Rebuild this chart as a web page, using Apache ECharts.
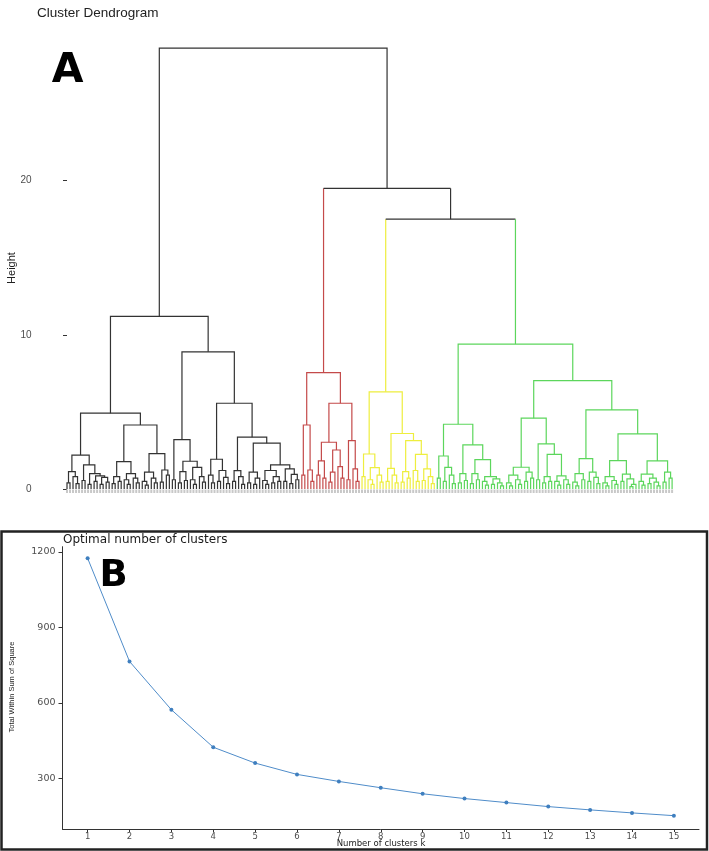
<!DOCTYPE html>
<html><head><meta charset="utf-8">
<script src="https://cdn.jsdelivr.net/npm/echarts@6/dist/echarts.min.js"></script>
<style>html,body{margin:0;padding:0;background:#fff}#c{width:709px;height:851px}</style>
</head><body><div id="c"></div>
<script>
// ---------- Panel A: dendrogram (node = [height, left, right], leaf = 0) ----------
const bA1 = [1.12,[0.4,0,0],[0.8,0,[0.35,0,0]]];
const bA2 = [1.56,[0.55,0,0],[1.0,[0.3,0,0],[0.85,[0.5,0,0],[0.75,[0.3,0,0],[0.45,0,0]]]]];
const bB1 = [1.77,[0.8,[0.35,0,0],[0.5,0,0]],[1.0,[0.6,0,[0.3,0,0]],[0.7,0,[0.4,0,0]]]];
const bB2 = [2.3,[1.1,[0.5,0,[0.25,0,0]],[0.7,0,[0.4,0,0]]],[1.23,[0.45,0,0],[0.9,0,0]]];
const bC  = [3.2,[0.6,0,0],[1.8,[1.12,[0.4,0,0],[0.55,0,0]],[1.4,[0.6,0,[0.3,0,0]],[0.8,0,[0.45,0,0]]]]];
const bD1 = [1.93,[0.9,0,[0.4,0,0]],[1.2,[0.5,0,0],[0.75,0,[0.35,0,0]]]];
const bD2 = [1.19,[0.5,0,0],[0.8,0,[0.3,0,0]]];
const bD3 = [1.1,[0.4,0,0],[0.7,[0.3,0,0],0]];
const bD4 = [1.56,[1.2,[0.55,0,[0.3,0,0]],[0.8,[0.4,0,0],[0.5,0,0]]],[1.3,[0.5,0,0],[0.95,[0.35,0,0],[0.6,0,0]]]];
const clusterBlack = [11.2,[4.92,[2.2,bA1,bA2],[4.15,bB1,bB2]],[8.9,bC,[5.56,bD1,[3.36,bD2,[2.97,bD3,bD4]]]]];

const rA  = [4.15,[0.9,0,0],[1.23,0,[0.5,0,0]]];
const rB1 = [3.03,[1.82,[0.9,0,0],[0.7,0,0]],[2.53,[1.1,[0.45,0,0],0],[1.45,0,[0.7,0,0]]]];
const rB2 = [3.14,[0.6,0,0],[1.3,0,[0.5,0,0]]];
const clusterRed = [7.55, rA, [5.56, rB1, rB2]];

const yA  = [2.27,[0.8,0,0],[1.38,[0.6,0,[0.3,0,0]],[0.9,0,[0.45,0,0]]]];
const yB1 = [1.34,[0.5,0,0],[0.9,0,[0.4,0,0]]];
const yB2 = [3.14,[1.12,[0.45,0,0],[0.7,0,0]],[2.25,[1.2,0,[0.5,0,0]],[1.3,[0.55,0,0],[0.8,0,[0.35,0,0]]]]];
const clusterYellow = [6.3, yA, [3.6, yB1, yB2]];

const gA1 = [2.14,[0.7,0,0],[1.4,[0.5,0,0],[0.9,0,[0.35,0,0]]]];
const gA2 = [2.86,[1.0,[0.4,0,0],[0.55,0,0]],[1.9,[1.0,[0.35,0,0],[0.6,0,0]],[0.8,[0.5,0,[0.25,0,0]],[0.65,[0.3,0,0],[0.4,0,[0.2,0,0]]]]]];
const gB1 = [1.41,[0.9,[0.4,0,[0.2,0,0]],[0.6,0,[0.3,0,0]]],[1.1,[0.5,0,0],[0.7,0,0]]];
const gB2 = [2.92,[0.6,0,0],[2.25,[0.8,[0.4,0,0],[0.5,0,0]],[0.85,[0.5,0,[0.25,0,0]],[0.6,0,[0.3,0,0]]]]];
const gC1 = [1.97,[1.0,[0.45,0,[0.2,0,0]],[0.6,0,0]],[1.1,[0.5,0,0],[0.75,0,[0.35,0,0]]]];
const gC2 = [1.84,[0.8,[0.4,0,[0.2,0,0]],[0.55,0,[0.3,0,0]]],[0.97,[0.5,0,0],[0.65,0,[0.3,[0.15,0,0],0]]]];
const gC3 = [1.82,[0.97,[0.5,0,[0.25,0,0]],[0.7,[0.35,0,0],[0.45,0,[0.2,0,0]]]],[1.1,[0.45,0,0],[0.7,0,0]]];
const clusterGreen = [9.4,[4.2,gA1,gA2],[7.03,[4.59,gB1,gB2],[5.13,gC1,[3.57,gC2,gC3]]]];

const rootHeight = 28.6, redJoinHeight = 19.5, yellowGreenJoinHeight = 17.5;
const dendYTicks = [0, 10, 20];

// ---------- Panel B: elbow ----------
const elbowK = [1,2,3,4,5,6,7,8,9,10,11,12,13,14,15];
const elbowWSS = [1175,765,573,424,361,316,288,263,239,220,204,188,175,163,152];
const elbowYTicks = [300, 600, 900, 1200];

// ---------- build dendrogram segments ----------
const palette = ['#333333','#c44a4a','#eeee3e','#5cd65c'];
const clusterDefs = {black:[clusterBlack,0], red:[clusterRed,1], yellow:[clusterYellow,2], green:[clusterGreen,3]};
const dendTop = [rootHeight, 'black', [redJoinHeight, 'red', [yellowGreenJoinHeight, 'yellow', 'green']]];
const segs = [], leafItems = [];
let leafIdx = 0;
function lay(node, ci) {
  if (typeof node === 'string') { const d = clusterDefs[node]; return lay(d[0], d[1]); }
  if (node === 0) { const x = leafIdx++; leafItems.push([x, 0]); return {x: x, h: 0, c: ci}; }
  const L = lay(node[1], ci), R = lay(node[2], ci);
  segs.push([L.x, L.h, R.x, R.h, node[0], L.c, ci, R.c]);
  return {x: (L.x + R.x) / 2, h: node[0], c: ci};
}
lay(dendTop, 0);

const chart = echarts.init(document.getElementById('c'), null, {renderer: 'canvas'});
const gray = '#4d4d4d';
const plain = function (v) { return String(v); };
const option = {
  animation: false,
  grid: [
    {left: 37.5, right: 8, top: 26.5, height: 477.9},
    {left: 62.5, right: 10, top: 546.7, height: 282.3}
  ],
  xAxis: [
    {type: 'value', gridIndex: 0, min: -9.8, max: 210.6, show: false},
    {type: 'value', gridIndex: 1, min: 0.4, max: 15.6,
     axisLine: {show: true, lineStyle: {color: '#333', width: 1}},
     axisTick: {show: true, length: 3, customValues: elbowK, lineStyle: {color: '#333'}},
     axisLabel: {customValues: elbowK, formatter: plain, color: gray, fontSize: 8.5, fontFamily: 'DejaVu Sans', margin: 3},
     splitLine: {show: false}}
  ],
  yAxis: [
    {type: 'value', gridIndex: 0, min: -1, max: 30,
     axisLine: {show: false},
     axisTick: {show: true, length: 4, customValues: dendYTicks, lineStyle: {color: '#333'}},
     axisLabel: {customValues: dendYTicks, formatter: plain, color: gray, fontSize: 10, fontFamily: 'Liberation Sans', margin: 6},
     splitLine: {show: false}},
    {type: 'value', gridIndex: 1, min: 99, max: 1221,
     axisLine: {show: true, lineStyle: {color: '#333', width: 1}},
     axisTick: {show: true, length: 4, customValues: elbowYTicks, lineStyle: {color: '#333'}},
     axisLabel: {customValues: elbowYTicks, formatter: plain, color: gray, fontSize: 9.5, fontFamily: 'DejaVu Sans', margin: 7},
     splitLine: {show: false}}
  ],
  series: [
    {
      type: 'custom', xAxisIndex: 0, yAxisIndex: 0, data: leafItems, silent: true,
      renderItem: function (params, api) {
        const p = api.coord([api.value(0), api.value(1)]);
        return {type: 'rect', shape: {x: p[0] - 1, y: p[1] + 0.5, width: 2, height: 3.5}, style: {fill: '#c8c8c8'}};
      }
    },
    {
      type: 'custom', xAxisIndex: 0, yAxisIndex: 0, data: segs, silent: true,
      renderItem: function (params, api) {
        const xl = api.value(0), hl = api.value(1), xr = api.value(2), hr = api.value(3), h = api.value(4);
        const cL = palette[api.value(5)], cH = palette[api.value(6)], cR = palette[api.value(7)];
        const a = api.coord([xl, hl]), b = api.coord([xl, h]), c = api.coord([xr, h]), d = api.coord([xr, hr]);
        const st = function (col) { return {stroke: col, lineWidth: 1.2, fill: null}; };
        if (cL === cH && cH === cR) {
          return {type: 'polyline', shape: {points: [a, b, c, d]}, style: st(cH)};
        }
        return {type: 'group', children: [
          {type: 'polyline', shape: {points: [a, b]}, style: st(cL)},
          {type: 'polyline', shape: {points: [b, c]}, style: st(cH)},
          {type: 'polyline', shape: {points: [c, d]}, style: st(cR)}
        ]};
      }
    },
    {
      type: 'line', xAxisIndex: 1, yAxisIndex: 1,
      data: elbowK.map(function (k, i) { return [k, elbowWSS[i]]; }),
      symbol: 'circle', symbolSize: 4, showSymbol: true,
      lineStyle: {color: '#4f8cc9', width: 1},
      itemStyle: {color: '#3f7fbf'}
    }
  ],
  graphic: [
    {type: 'text', x: 37, y: 13.5, style: {text: 'Cluster Dendrogram', fontSize: 13.5, fontFamily: 'Liberation Sans', fill: '#222', align: 'left', verticalAlign: 'middle'}},
    {type: 'text', x: 67.5, y: 71, style: {text: 'A', fontSize: 41, fontWeight: 'bold', fontFamily: 'DejaVu Sans', fill: '#000', align: 'center', verticalAlign: 'middle'}},
    {type: 'text', x: 12, y: 268, rotation: Math.PI / 2, style: {text: 'Height', fontSize: 11, fontFamily: 'Liberation Sans', fill: '#222', align: 'center', verticalAlign: 'middle'}},
    {type: 'rect', shape: {x: 1.5, y: 531.5, width: 705.5, height: 318}, style: {fill: null, stroke: '#222', lineWidth: 2.5}},
    {type: 'text', x: 63, y: 539.5, style: {text: 'Optimal number of clusters', fontSize: 12, fontFamily: 'DejaVu Sans', fill: '#1a1a1a', align: 'left', verticalAlign: 'middle'}},
    {type: 'text', x: 113.5, y: 576, style: {text: 'B', fontSize: 37, fontWeight: 'bold', fontFamily: 'DejaVu Sans', fill: '#000', align: 'center', verticalAlign: 'middle'}},
    {type: 'text', x: 12, y: 687, rotation: Math.PI / 2, style: {text: 'Total Within Sum of Square', fontSize: 7.5, fontFamily: 'Liberation Sans', fill: '#222', align: 'center', verticalAlign: 'middle'}},
    {type: 'text', x: 381, y: 844, style: {text: 'Number of clusters k', fontSize: 8.5, fontFamily: 'DejaVu Sans', fill: '#222', align: 'center', verticalAlign: 'middle'}}
  ]
};
chart.setOption(option);
</script></body></html>
